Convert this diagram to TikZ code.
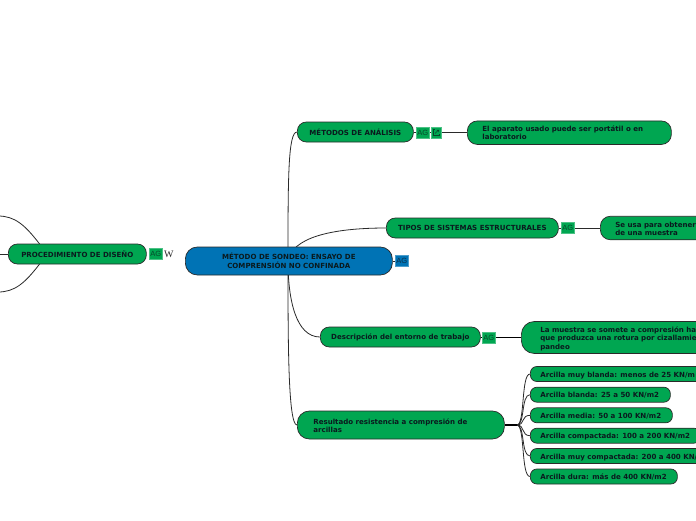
\documentclass[tikz,border=0pt]{standalone}
\usepackage{fontspec}
\setmainfont{DejaVu Sans}
\newfontfamily\wfont{Liberation Serif}
\newfontfamily\tagfont{Liberation Sans}
\usetikzlibrary{backgrounds}
\definecolor{mmgreen}{HTML}{00A651}
\definecolor{mmblue}{HTML}{0073B5}
\definecolor{mmink}{HTML}{0A1A1E}
\definecolor{mmline}{HTML}{2A2A2A}
\definecolor{mmtag}{HTML}{07472A}
\definecolor{mmtagb}{HTML}{0A2F48}
\newcommand\ltxt[3][-1.5]{\makebox[#2pt][l]{\raisebox{#1pt}[\height][\depth]{\begin{tabular}{@{}l@{}}#3\end{tabular}}}}
\tikzset{
  pill/.style={draw=mmline,line width=0.7pt,fill=mmgreen,text=mmink,anchor=west,inner sep=0pt,rounded corners=9pt,
    font=\fontsize{7.05}{8.4}\selectfont\bfseries},
  pillblue/.style={pill,fill=mmblue,rounded corners=12pt},
  arcilla/.style={pill,rounded corners=6.5pt,minimum height=15pt},
  tag/.style={draw=mmgreen!70!white,line width=0.4pt,fill=mmgreen,text=mmtag,anchor=west,inner sep=0pt,minimum width=13pt,minimum height=11pt,font=\fontsize{7.5}{8}\selectfont\tagfont},
  tagblue/.style={tag,draw=mmblue!70!white,fill=mmblue,text=mmtagb},
  wire/.style={draw=mmline,line width=0.8pt},
  hubwire/.style={draw=black,line width=0.8pt},
}
\begin{document}
\begin{tikzpicture}[x=1pt,y=-1pt]
\path[use as bounding box] (0,0) rectangle (696,520);
% central
\node[pillblue,minimum width=207pt,minimum height=28pt,align=center] (c) at (185,261) {\raisebox{-0.8pt}[\height][\depth]{\begin{tabular}{@{}c@{}}MÉTODO DE SONDEO: ENSAYO DE\\COMPRENSIÓN NO CONFINADA\end{tabular}}};
\node[tagblue] (cag) at (395,261) {AG};
% left
\node[pill,minimum width=138pt,minimum height=20pt] (p) at (8,254) {PROCEDIMIENTO DE DISEÑO};
\node[tag] (pag) at (149,254) {AG};
\node[anchor=west,inner sep=0pt,text=mmline,font=\fontsize{10}{10}\selectfont\wfont] (pw) at (164,254) {W};
\coordinate (lt) at (-2,216);
\coordinate (lm) at (-2,254);
\coordinate (lb) at (-2,292);
\coordinate (pt) at (40,244.5);
\coordinate (pb) at (40,263.5);
% metodos
\node[pill,minimum width=116pt,minimum height=20pt] (m) at (297,132) {MÉTODOS DE ANÁLISIS};
\node[tag] (mag) at (416,132.5) {AG};
\node[tag,minimum width=10pt] (mlk) at (431,132.5) {};
\draw[mmtag,line width=0.5pt] ([shift={(3,-0.5)}]mlk.west) ++(0.5,-2.5) -- ++(-1.5,0) -- ++(0,6) -- ++(6,0) -- ++(0,-1.5);
\draw[mmtag,line width=0.5pt] ([shift={(4,1)}]mlk.west) -- ++(3.5,-3.5) ++(-2,0) -- ++(2,0) -- ++(0,2);
\node[pill,minimum width=204pt,minimum height=23.5pt,rounded corners=10pt] (a) at (467,132.7) {\ltxt[-1.3]{174}{El aparato usado puede ser portátil o en\\laboratorio}};
% tipos
\node[pill,minimum width=172pt,minimum height=20pt] (t) at (386,228) {TIPOS DE SISTEMAS ESTRUCTURALES};
\node[tag] (tag1) at (561,228) {AG};
\node[pill,minimum width=160pt,minimum height=23.5pt,rounded corners=10pt] (s) at (600,228) {\ltxt[-1.8]{130}{Se usa para obtener\\de una muestra}};
% descripcion
\node[pill,minimum width=160pt,minimum height=20pt] (d) at (320,337) {Descripción del entorno de trabajo};
\node[tag] (dag) at (482,337.5) {AG};
\node[pill,minimum width=300pt,minimum height=32pt,rounded corners=13pt] (l) at (521,337.5) {\ltxt[-1.5]{262}{La muestra se somete a compresión has\\que produzca una rotura por cizallamien\\pandeo}};
% resultado
\node[pill,minimum width=207pt,minimum height=28pt,rounded corners=12pt] (r) at (297,425) {\ltxt[-1.8]{175}{Resultado resistencia a compresión de\\arcillas}};
\coordinate (rh) at (517,425);
\node[arcilla,minimum width=190pt] (a1) at (530,374) {\ltxt{170}{Arcilla muy blanda: menos de 25 KN/m}};
\node[arcilla,minimum width=140pt] (a2) at (530,394.7) {\ltxt{120}{Arcilla blanda: 25 a 50 KN/m2}};
\node[arcilla,minimum width=142pt] (a3) at (530,415.3) {\ltxt{122}{Arcilla media: 50 a 100 KN/m2}};
\node[arcilla,minimum width=170pt] (a4) at (530,435.7) {\ltxt{150}{Arcilla compactada: 100 a 200 KN/m2}};
\node[arcilla,minimum width=190pt] (a5) at (530,456) {\ltxt{170}{Arcilla muy compactada: 200 a 400 KN/}};
\node[arcilla,minimum width=147pt] (a6) at (530,476.5) {\ltxt{127}{Arcilla dura: más de 400 KN/m2}};
\begin{scope}[on background layer]
\fill[white] (0,0) rectangle (696,520);
\clip (0,0) rectangle (696,520);
\coordinate (ch) at (288,261);
\draw[wire] (ch) .. controls (288,180) and (288,132) .. (m.west);
\draw[wire] (ch) .. controls (292,238) and (330,228) .. (t.west);
\draw[wire] (ch) .. controls (288,300) and (296,337) .. (d.west);
\draw[wire] (ch) .. controls (288,340) and (288,425) .. (r.west);
\draw[wire] (pt) .. controls (25,225) and (15,216) .. (lt);
\draw[wire] (p.west) -- (lm);
\draw[wire] (pb) .. controls (25,283) and (15,292) .. (lb);
\draw[wire] (cag) -- (c);
\draw[wire] (mlk) -- (a);
\draw[wire] (mag) -- (mlk);
\draw[wire] (m) -- (mag);
\draw[wire] (t) -- (tag1);
\draw[wire] (tag1) -- (s);
\draw[hubwire] (d) -- (dag);
\draw[hubwire] (dag) -- (l);
\draw[hubwire,line width=1.2pt] (r.east) -- (rh);
\foreach \n in {a1,a2,a3,a4,a5,a6}
  \draw[wire] (rh) .. controls (525,425) and ([xshift=-9pt]\n.west) .. (\n.west);
\end{scope}
\end{tikzpicture}
\end{document}
